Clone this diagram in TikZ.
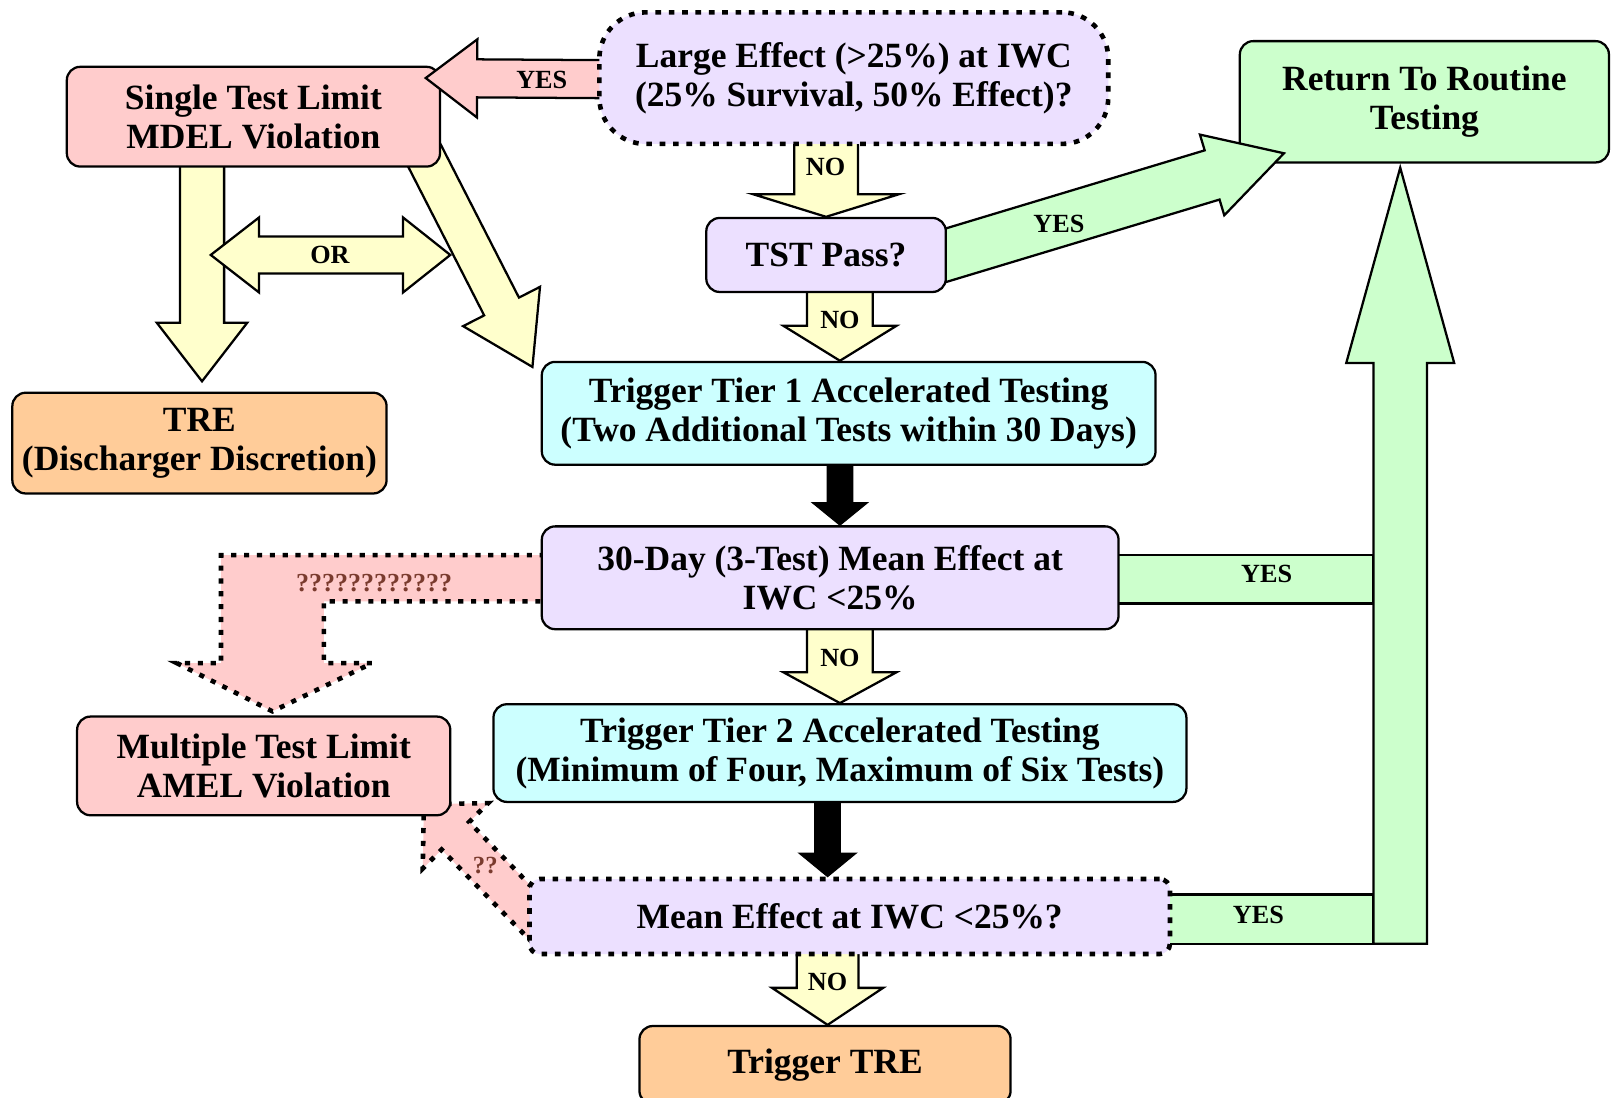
\documentclass[tikz,border=0pt]{standalone}
\usepackage{fontspec}
\setmainfont{Liberation Serif}
\usetikzlibrary{calc}

\pgfdeclarelayer{bg}
\pgfdeclarelayer{fg}
\pgfsetlayers{bg,main,fg}

\definecolor{pinkfill}{HTML}{FFCCCC}
\definecolor{lavfill}{HTML}{ECE0FF}
\definecolor{greenfill}{HTML}{CCFFCC}
\definecolor{cyanfill}{HTML}{CCFFFF}
\definecolor{orangefill}{HTML}{FFCC99}
\definecolor{yellowfill}{HTML}{FFFFCC}
\definecolor{qmark}{HTML}{7A3B2E}

\newcommand\boxtext{\fontsize{34.5}{38}\selectfont\bfseries}
\newcommand\tagtext{\fontsize{25.5}{28}\selectfont\bfseries}

% block arrow: style, start, tip, shaft half-width, head half-width, head length
\newcommand\blockarrow[6]{%
  \coordinate (ba-h) at ($(#3)!#6!(#2)$);
  \draw[#1] ($(#2)!#4!90:(#3)$) -- ($(ba-h)!#4!90:(#3)$) -- ($(ba-h)!#5!90:(#3)$) -- (#3)
    -- ($(ba-h)!#5!-90:(#3)$) -- ($(ba-h)!#4!-90:(#3)$) -- ($(#2)!#4!-90:(#3)$) -- cycle;}

\tikzset{
  box/.style={draw, line width=2.2pt, rounded corners=13pt, inner sep=0pt,
    align=center, font=\boxtext},
  dotbox/.style={box, line width=4.5pt, dash pattern=on 5.5pt off 7.5pt},
  yarrow/.style={draw, line width=2.2pt, fill=yellowfill},
  karrow/.style={draw, line width=1pt, fill=black},
  garrow/.style={draw, line width=2.2pt, fill=greenfill},
  parrow/.style={draw, line width=2.2pt, fill=pinkfill},
  pdot/.style={draw, line width=4.5pt, dash pattern=on 5pt off 7.5pt, fill=pinkfill},
  tag/.style={font=\tagtext, inner sep=0pt},
}

\begin{document}
\begin{tikzpicture}[x=1pt, y=-1pt]
\useasboundingbox (0,0) rectangle (1568,1068);

% ---- boxes ----
\node[box, fill=pinkfill, minimum width=363pt, minimum height=97pt] (single) at (246.5,113.5)
  {Single Test Limit\\MDEL Violation};
\node[box, fill=greenfill, minimum width=359pt, minimum height=118pt] (ret) at (1385.5,99)
  {Return To Routine\\Testing};
\node[box, fill=orangefill, minimum width=364pt, minimum height=98pt] (tre1) at (194,431)
  {TRE\\(Discharger Discretion)};
\node[box, fill=cyanfill, minimum width=597pt, minimum height=100pt] (tier1) at (825.5,402)
  {Trigger Tier 1 Accelerated Testing\\(Two Additional Tests within 30 Days)};
\node[box, fill=lavfill, minimum width=561pt, minimum height=100pt] (day30) at (807.5,562)
  {30-Day (3-Test) Mean Effect at\\IWC <25\%};
\node[box, fill=pinkfill, minimum width=363pt, minimum height=96pt] (multi) at (256.5,745)
  {Multiple Test Limit\\AMEL Violation};
\node[box, fill=cyanfill, minimum width=674pt, minimum height=95pt] (tier2) at (817,732.5)
  {Trigger Tier 2 Accelerated Testing\\(Minimum of Four, Maximum of Six Tests)};
\node[dotbox, rounded corners=10pt, fill=lavfill, minimum width=623pt, minimum height=73pt] (mean)
  at (826.5,891.5) {Mean Effect at IWC <25\%?};
\node[box, fill=orangefill, minimum width=361pt, minimum height=76pt] (tre2) at (802.5,1036)
  {Trigger TRE};

\begin{pgfonlayer}{fg}
\node[dotbox, rounded corners=45pt, fill=lavfill, minimum width=495pt, minimum height=128pt] (large)
  at (830.5,76) {Large Effect (>25\%) at IWC\\(25\% Survival, 50\% Effect)?};
\node[box, fill=lavfill, minimum width=233pt, minimum height=72pt] (tst) at (803.5,248) {TST Pass?};
\end{pgfonlayer}

% ---- arrows behind the boxes ----
\begin{pgfonlayer}{bg}
  % main decision chain
  \coordinate (a1s) at ($(large.south)+(-27,-6)$);
  \blockarrow{yarrow}{a1s}{tst.north}{31pt}{71pt}{22pt}
  \coordinate (a2s) at ($(tst.south)+(13.5,-4)$);
  \coordinate (a2t) at ($(tier1.north)+(-8.5,0)$);
  \blockarrow{yarrow}{a2s}{a2t}{32pt}{55pt}{34pt}
  \coordinate (a3s) at ($(tier1.south)+(-8.5,-4)$);
  \coordinate (a3t) at ($(day30.north)+(9.5,0)$);
  \blockarrow{karrow}{a3s}{a3t}{12.5pt}{27pt}{22pt}
  \coordinate (a4s) at ($(day30.south)+(9.5,-4)$);
  \blockarrow{yarrow}{a4s}{tier2.north}{32pt}{55pt}{30pt}
  \coordinate (a5s) at ($(tier2.south)+(-12,-4)$);
  \coordinate (a5t) at ($(mean.north)+(-21.5,0)$);
  \blockarrow{karrow}{a5s}{a5t}{12.5pt}{28pt}{23pt}
  \coordinate (a6s) at ($(mean.south)+(-21.5,-4)$);
  \coordinate (a6t) at ($(tre2.north)+(2.5,0)$);
  \blockarrow{yarrow}{a6s}{a6t}{30pt}{54pt}{36pt}

  % single test limit outcomes
  \coordinate (a7s) at ($(single.south)+(-50,-4)$);
  \coordinate (a7t) at ($(tre1.north)+(2.5,-10)$);
  \blockarrow{yarrow}{a7s}{a7t}{21.5pt}{44pt}{57pt}
  \coordinate (a8s) at ($(single.south east)+(-23,-25)$);
  \coordinate (a8t) at ($(tier1.north west)+(-8,6)$);
  \blockarrow{yarrow}{a8s}{a8t}{19pt}{42pt}{66pt}
  % either / or
  \draw[yarrow] (205,248) -- (252,211.5) -- (252,230) -- (392,230) -- (392,211.5) -- (438,248)
    -- (392,284.5) -- (392,266) -- (252,266) -- (252,284.5) -- cycle;

  % return to routine testing
  \coordinate (gfoot) at (1362,918);
  \draw[garrow] ($(day30.east)+(-4,-22)$) rectangle ($(gfoot)+(-26,-331)$);
  \draw[garrow] ($(mean.east)+(-4,-21.5)$) rectangle ($(gfoot)+(-26,0)$);
  \coordinate (a11t) at ($(ret.south)+(-23.5,4)$);
  \blockarrow{garrow}{gfoot}{a11t}{26pt}{52.5pt}{190pt}

  % uncertain paths to the multiple test limit
  \draw[pdot] ($(day30.west)+(4,-22)$) -- (215,540) -- (215,645) -- (172,645)
    -- ($(multi.north)+(8.5,-4)$) -- (362,645) -- (315,645) -- (315,585)
    -- ($(day30.west)+(4,23)$) -- cycle;
  \draw[pdot] ($(mean.west)+(5,-28.3)$) -- (456.4,799.6) -- (474.8,781.2)
    -- ($(multi.south east)+(-26.8,-11.8)$) -- (411.2,844.8) -- (429.6,826.4)
    -- ($(mean.west)+(5,25.3)$) -- cycle;
\end{pgfonlayer}

% ---- arrows over the target boxes ----
\coordinate (a9s) at ($(large.west)+(7,1)$);
\coordinate (a9t) at ($(single.north east)+(-15,12)$);
\blockarrow{parrow}{a9s}{a9t}{18.5pt}{38pt}{50pt}
\coordinate (a10s) at ($(tst.east)+(-19,5.7)$);
\coordinate (a10t) at ($(ret.south west)+(44,-10)$);
\blockarrow{garrow}{a10s}{a10t}{25pt}{41pt}{73pt}

% ---- labels ----
\node[tag] (l1) at (527,78) {YES};
\node[tag] (l2) at (803,162) {NO};
\node[tag] (l3) at (1030,218) {YES};
\node[tag] (l4) at (817,311) {NO};
\node[tag] (l5) at (321,248) {OR};
\node[tag] (l6) at (1232,558) {YES};
\node[tag] (l7) at (817,640) {NO};
\node[tag] (l8) at (1224,890) {YES};
\node[tag] (l9) at (805,955) {NO};
\node[tag, text=qmark, font=\fontsize{25.3}{28}\selectfont\bfseries] (l10) at (364,567) {????????????};
\node[tag, text=qmark, font=\fontsize{24}{26}\selectfont\bfseries] (l11) at (472,842) {??};

\end{tikzpicture}
\end{document}
